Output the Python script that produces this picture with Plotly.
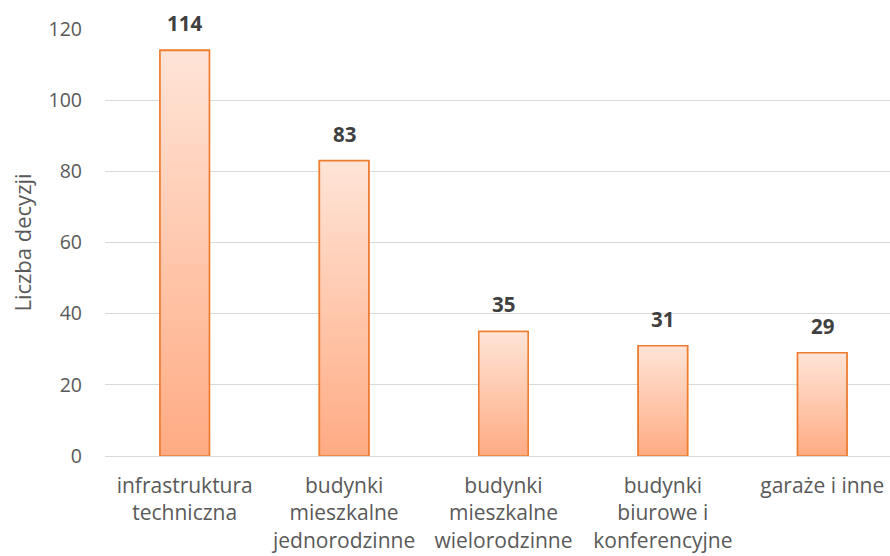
import plotly.graph_objects as go

categories = ["infrastruktura<br>techniczna", "budynki<br>mieszkalne<br>jednorodzinne",
              "budynki<br>mieszkalne<br>wielorodzinne", "budynki<br>biurowe i<br>konferencyjne",
              "garaże i inne"]
values = [114, 83, 35, 31, 29]
y_ticks = [0, 20, 40, 60, 80, 100, 120]

FONT = "Open Sans"
BORDER = "#ED7D31"
TOP = "#FFE4D7"
BOTTOM = "#FFAB83"
W = 0.31
idx = list(range(len(categories)))

fig = go.Figure()
fig.add_trace(go.Bar(x=idx, y=values, width=W, marker=dict(color="#FFC8AD", line=dict(color=BORDER, width=1.5)),
                     hoverinfo="skip", showlegend=False))

# gradient fill overlay for each bar, derived from the bar values
for i, v in zip(idx, values):
    fig.add_trace(go.Scatter(
        x=[i - W / 2, i + W / 2, i + W / 2, i - W / 2, i - W / 2],
        y=[0, 0, v, v, 0],
        mode="lines", fill="toself",
        line=dict(color=BORDER, width=1.6),
        fillgradient=dict(type="vertical", colorscale=[[0, BOTTOM], [1, TOP]], start=0, stop=v),
        hoverinfo="skip", showlegend=False))

for i, v in zip(idx, values):
    fig.add_annotation(x=i, y=v, text=f"<b>{v}</b>", showarrow=False, yanchor="middle", yshift=27,
                       font=dict(family=FONT, size=20.5, color="#404040"))

fig.update_layout(
    width=890, height=556,
    margin=dict(l=105, r=0, t=29, b=100),
    paper_bgcolor="white", plot_bgcolor="white",
    font=dict(family=FONT, size=19, color="#595959"),
    xaxis=dict(range=[-0.5, 4.425], tickmode="array", tickvals=idx, ticktext=categories,
               showgrid=False, zeroline=False, showline=False, ticks="", ticklabelstandoff=15,
               tickfont=dict(family=FONT, size=21, color="#595959")),
    yaxis=dict(range=[0, 120], tickvals=y_ticks, showgrid=True, gridcolor="#D9D9D9", gridwidth=1.3,
               zeroline=True, zerolinecolor="#D9D9D9", zerolinewidth=1.3, showline=False, ticks="",
               ticklabelstandoff=22,
               tickfont=dict(family=FONT, size=19.5, color="#595959"),
               title=dict(text="Liczba decyzji", standoff=10, font=dict(family=FONT, size=22, color="#595959"))),
)

fig.write_html("out.html", config={"displayModeBar": False},
               post_script="document.body.style.margin='0px';")
